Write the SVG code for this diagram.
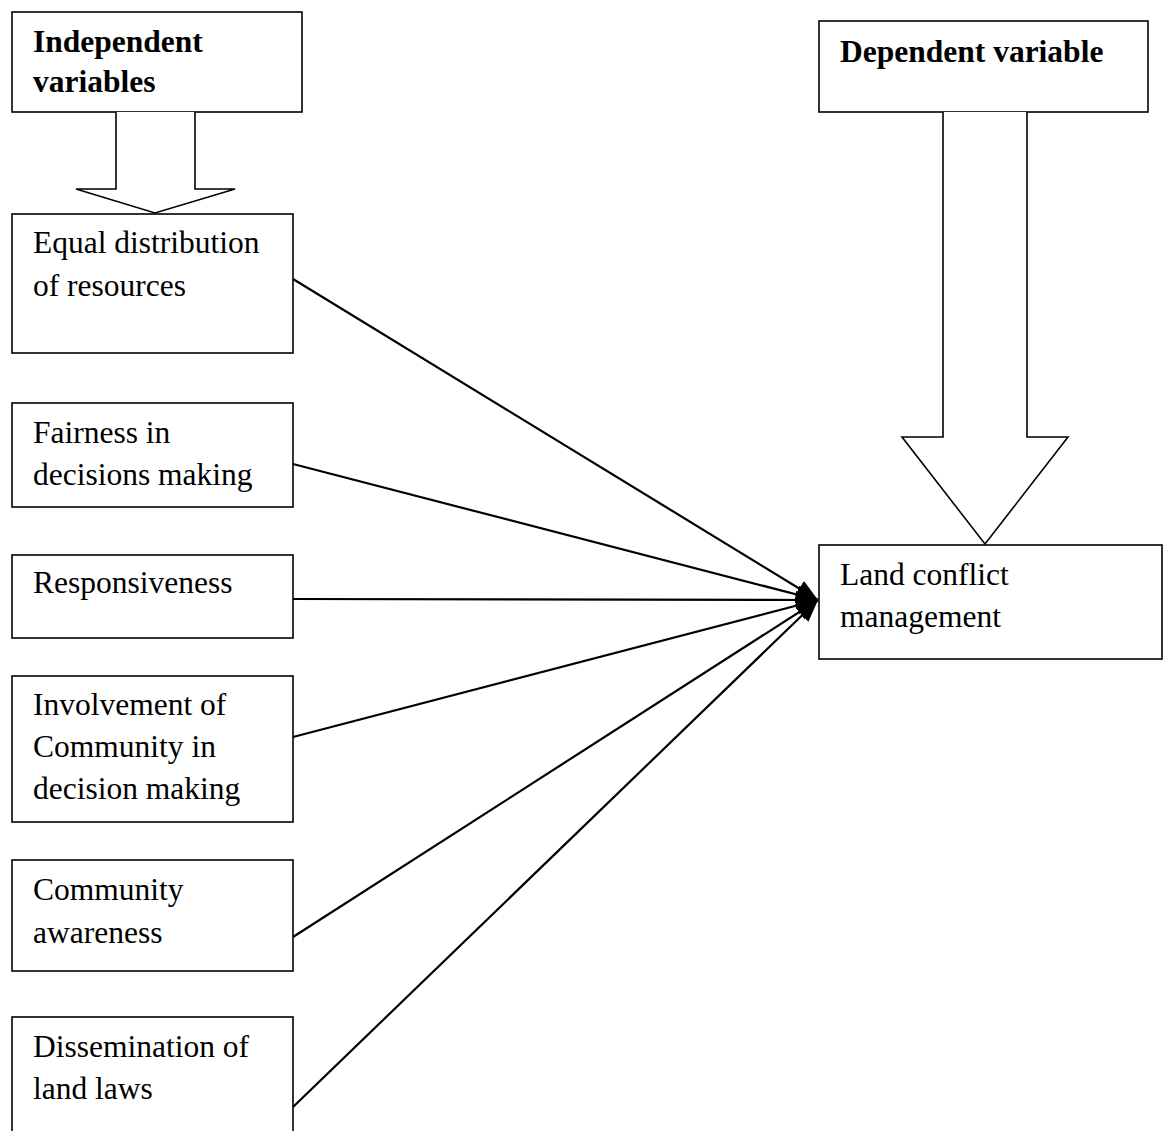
<svg xmlns="http://www.w3.org/2000/svg" width="1165" height="1131" viewBox="0 0 1165 1131">
<style>
.box{fill:#fff;stroke:#000;stroke-width:1.6}
.t{font-family:"Liberation Serif","Times New Roman",serif;font-size:31.5px;fill:#000}
.b{font-weight:bold}
.bigarrow{fill:#fff;stroke:#000;stroke-width:1.6;stroke-linejoin:miter}
.conn{stroke:#000;stroke-width:2.2;fill:none}
</style>
<defs>
<marker id="ah" markerUnits="userSpaceOnUse" markerWidth="26" markerHeight="20" refX="22" refY="9" orient="auto">
<path d="M0,0 L22,9 L0,18 Z" fill="#000"/>
</marker>
</defs>
<rect width="1165" height="1131" fill="#fff"/>
<g id="independent">
<rect class="box" x="12" y="12" width="290" height="100"/>
<text class="t b" x="33" y="52">Independent</text>
<text class="t b" x="33" y="92">variables</text>
</g>
<g id="independent-arrow">
<path class="bigarrow" d="M116,112 L116,189 L76,189 L155,213 L235,189 L195,189 L195,112"/>
</g>
<g id="dependent">
<rect class="box" x="819" y="21" width="329" height="91"/>
<text class="t b" x="840" y="62">Dependent variable</text>
</g>
<g id="dependent-arrow">
<path class="bigarrow" d="M943,112 L943,437 L902,437 L985,544 L1068,437 L1027,437 L1027,112"/>
</g>
<g id="equal">
<rect class="box" x="12" y="214" width="281" height="139"/>
<text class="t" x="33" y="253">Equal distribution</text>
<text class="t" x="33" y="296">of resources</text>
</g>
<g id="fairness">
<rect class="box" x="12" y="403" width="281" height="104"/>
<text class="t" x="33" y="443">Fairness in</text>
<text class="t" x="33" y="485">decisions making</text>
</g>
<g id="responsiveness">
<rect class="box" x="12" y="555" width="281" height="83"/>
<text class="t" x="33" y="593">Responsiveness</text>
</g>
<g id="involvement">
<rect class="box" x="12" y="676" width="281" height="146"/>
<text class="t" x="33" y="715">Involvement of</text>
<text class="t" x="33" y="757">Community in</text>
<text class="t" x="33" y="799">decision making</text>
</g>
<g id="awareness">
<rect class="box" x="12" y="860" width="281" height="111"/>
<text class="t" x="33" y="900">Community</text>
<text class="t" x="33" y="943">awareness</text>
</g>
<g id="dissemination">
<rect class="box" x="12" y="1017" width="281" height="130"/>
<text class="t" x="33" y="1057">Dissemination of</text>
<text class="t" x="33" y="1099">land laws</text>
</g>
<g id="land">
<rect class="box" x="819" y="545" width="343" height="114"/>
<text class="t" x="840" y="585">Land conflict</text>
<text class="t" x="840" y="627">management</text>
</g>
<g id="connectors">
<line class="conn" x1="293" y1="279" x2="818" y2="600" marker-end="url(#ah)"/>
<line class="conn" x1="293" y1="464" x2="818" y2="600" marker-end="url(#ah)"/>
<line class="conn" x1="293" y1="599" x2="818" y2="600" marker-end="url(#ah)"/>
<line class="conn" x1="293" y1="737" x2="818" y2="600" marker-end="url(#ah)"/>
<line class="conn" x1="293" y1="937" x2="818" y2="600" marker-end="url(#ah)"/>
<line class="conn" x1="293" y1="1107" x2="818" y2="600" marker-end="url(#ah)"/>
</g>
</svg>
